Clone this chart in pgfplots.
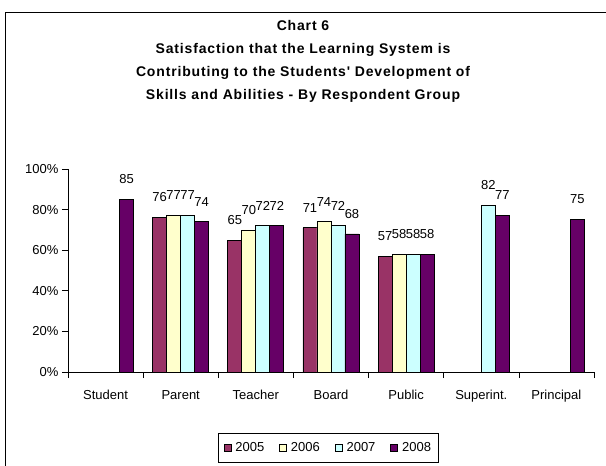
\documentclass[border=0pt]{standalone}
\usepackage{pgfplots}
\pgfplotsset{compat=1.18}
\usepackage{fontspec}
\setmainfont{Liberation Sans}
\newfontfamily\titlefont[LetterSpace=6]{Liberation Sans}
\definecolor{c05}{HTML}{993366}
\definecolor{c06}{HTML}{FFFFCC}
\definecolor{c07}{HTML}{CCFFFF}
\definecolor{c08}{HTML}{660066}
\pgfplotsset{/pgf/number format/assume math mode=true}
\begin{document}
\begin{tikzpicture}
\useasboundingbox (0pt,0pt) rectangle (606pt,-466pt);
\draw[black, line width=1pt] (5.5pt,-520pt) rectangle (660pt,-12pt);
\node[align=center, font=\titlefont\bfseries\fontsize{14}{23}\selectfont] at (303pt,-61pt)
  {Chart 6\\Satisfaction that the Learning System is\\Contributing to the Students' Development of\\Skills and Abilities - By Respondent Group};
\begin{axis}[
  at={(68pt,-372pt)}, anchor=south west,
  scale only axis, width=526pt, height=203pt,
  ymin=0, ymax=100, xmin=-0.5, xmax=6.5,
  ybar=0pt, bar width=14pt,
  axis x line=bottom, axis y line=left,
  axis line style={-, black, line width=0.7pt},
  ytick={0,20,...,100},
  yticklabel={\pgfmathprintnumber{\tick}\%},
  xtick={0,...,6},
  xticklabels={Student,Parent,Teacher,Board,Public,Superint.,Principal},
  minor xtick={-0.5,0.5,...,6.5},
  major x tick style={draw=none},
  tick align=outside,
  major tick length=6pt, minor tick length=6pt,
  tick style={black, line width=0.7pt},
  ticklabel style={font=\fontsize{13}{13}\selectfont},
  xticklabel style={yshift=-9pt},
  nodes near coords,
  every node near coord/.append style={font=\fontsize{13}{13}\selectfont, yshift=12pt, text=black},
  legend style={at={(0.495,-0.374)}, anchor=center, legend columns=4, draw=black, line width=0.7pt,
    font=\fontsize{13}{13}\selectfont, inner ysep=7.5pt, inner xsep=5pt,
    /tikz/every even column/.append style={column sep=13pt},
    /tikz/every odd column/.append style={column sep=2pt}},
  legend image code/.code={\draw[#1, draw=black, line width=0.7pt] (0pt,-3.5pt) rectangle (7pt,3.5pt);},
]
\addplot[fill=c05, draw=black, line width=0.8pt] coordinates {(1,76) (2,65) (3,71) (4,57)};
\addplot[fill=c06, draw=black, line width=0.8pt] coordinates {(1,77) (2,70) (3,74) (4,58)};
\addplot[fill=c07, draw=black, line width=0.8pt] coordinates {(1,77) (2,72) (3,72) (4,58) (5,82)};
\addplot[fill=c08, draw=black, line width=0.8pt] coordinates {(0,85) (1,74) (2,72) (3,68) (4,58) (5,77) (6,75)};
\legend{2005,2006,2007,2008}
\end{axis}
\end{tikzpicture}
\end{document}
